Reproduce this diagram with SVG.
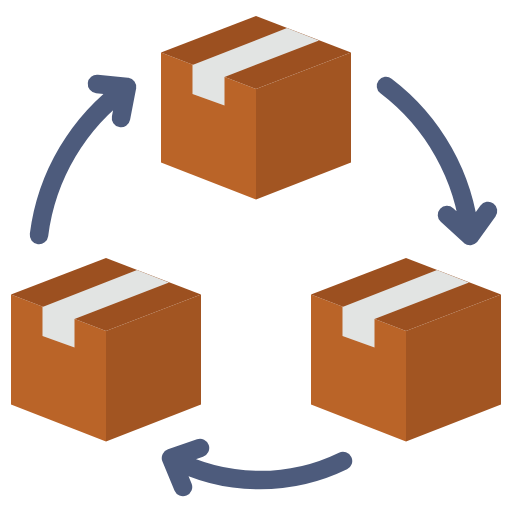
<svg xmlns="http://www.w3.org/2000/svg" width="512" height="512" viewBox="0 0 512 512">
<style>
.front{fill:#BA6428}.side{fill:#A25522}.top{fill:#9C5020}.tape{fill:#E2E4E3}
.arrow{fill:none;stroke:#4D5B7C;stroke-width:18.500;stroke-linecap:round;stroke-linejoin:round}
</style>
<defs>
<g id="box">
<path class="front" d="M161 52.500L256 89V199.500L161 162.500Z"/>
<path class="side" d="M351 52.500L256 89V199.500L351 162.500Z"/>
<path class="top" d="M256 16L351 52.500L256 89L161 52.500Z"/>
<path class="tape" d="M192.500 65L287 28L319 40.500L224.500 77V105.500L192.500 94Z"/>
</g>
</defs>
<g id="box-top"><use href="#box"/></g>
<g id="box-right"><use href="#box" x="150" y="242"/></g>
<g id="box-left"><use href="#box" x="-150" y="242"/></g>
<g id="connectors">
<path class="arrow" d="M386 86A215 215 0 0 1 470 236M447 215L470 236L488 211"/>
<path class="arrow" d="M343 461A190 190 0 0 1 171 458M200 448L171 458L183 487"/>
<path class="arrow" d="M39 235A216 216 0 0 1 127 87M97 84L127 87L121 118"/>
</g>
</svg>
